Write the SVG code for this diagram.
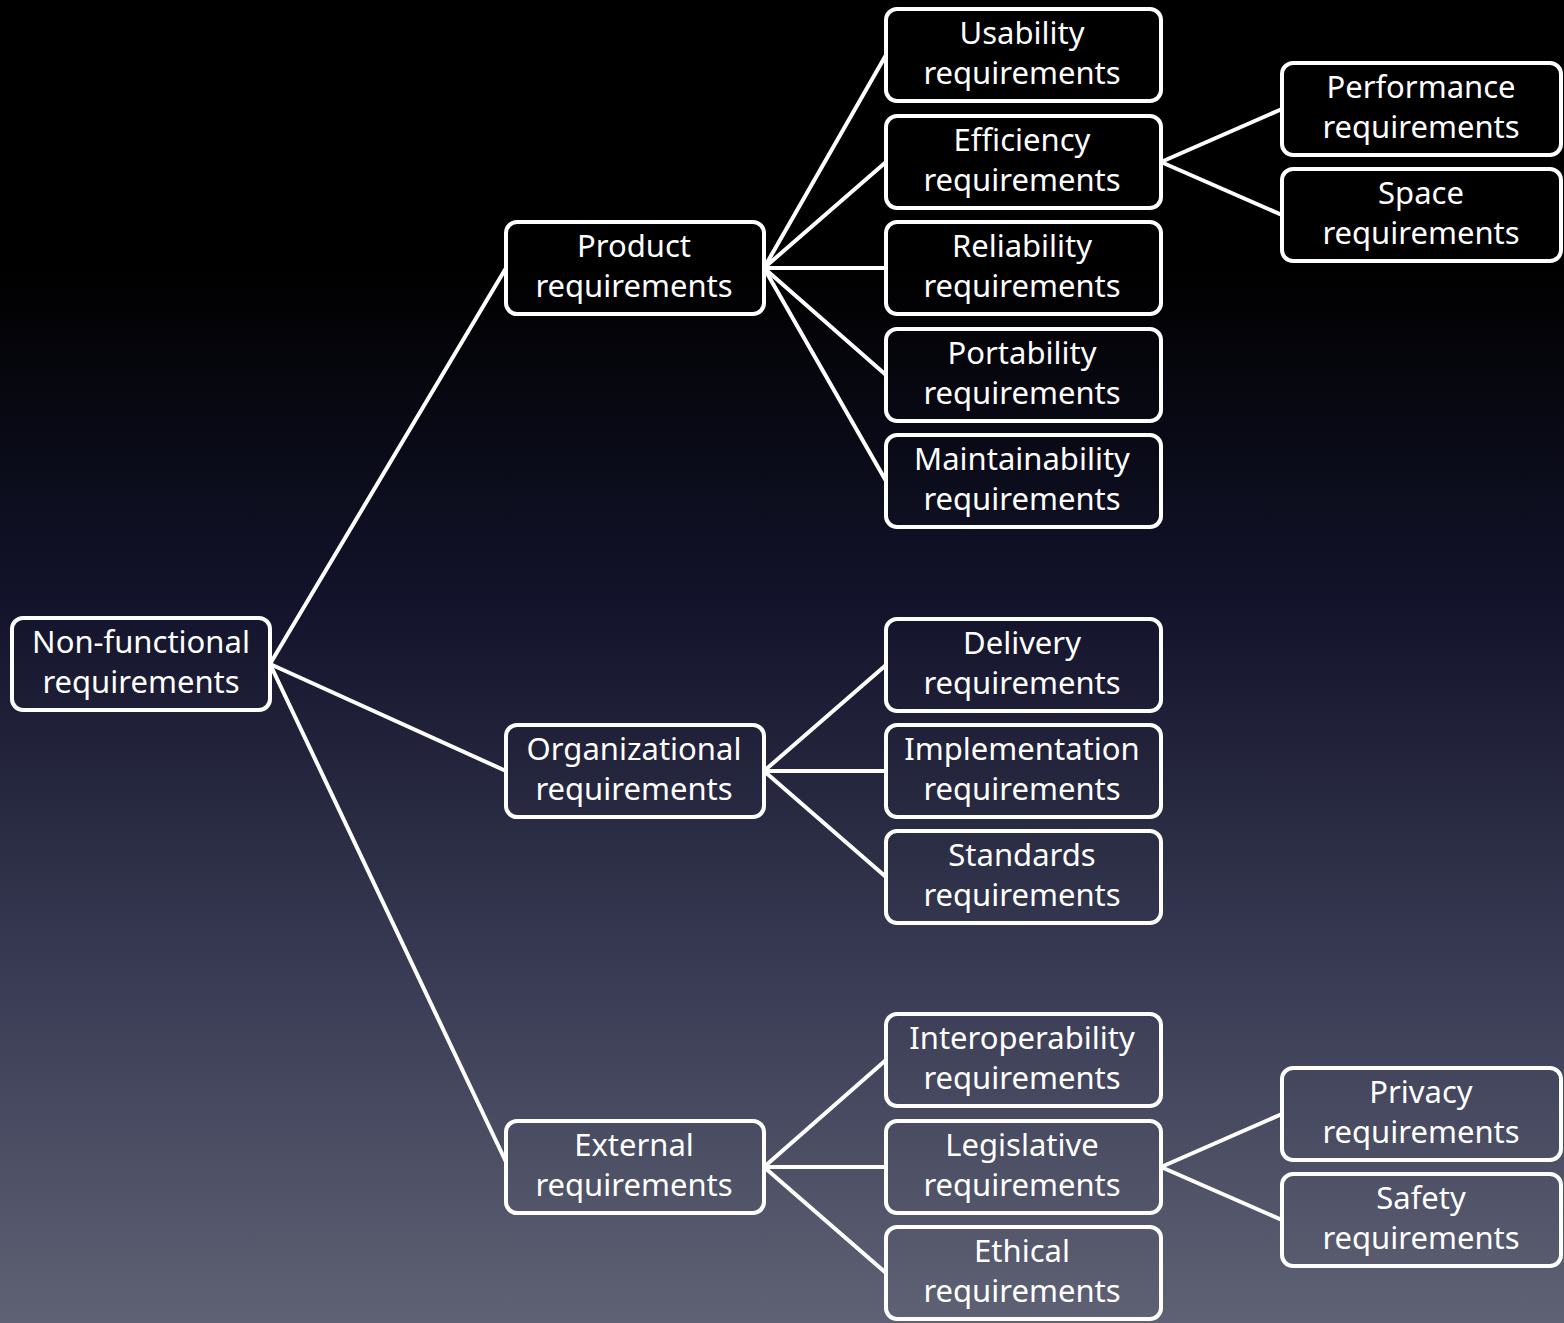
<svg xmlns="http://www.w3.org/2000/svg" width="1564" height="1323" viewBox="0 0 1564 1323">
<defs>
<linearGradient id="bg" x1="0" y1="0" x2="0" y2="1">
<stop offset="0" stop-color="#000000"/>
<stop offset="0.2" stop-color="#000000"/>
<stop offset="0.45" stop-color="#12132a"/>
<stop offset="0.75" stop-color="#3b3d56"/>
<stop offset="1" stop-color="#5f6174"/>
</linearGradient>
<style>
.box{fill:none;stroke:#ffffff;stroke-width:4}
.lbl{fill:#ffffff;font-family:"Noto Sans","Open Sans","Liberation Sans",sans-serif;font-size:31px;text-anchor:middle}
.con{stroke:#ffffff;stroke-width:4;fill:none;stroke-linecap:round}
</style>
</defs>
<rect x="0" y="0" width="1564" height="1323" fill="url(#bg)"/>
<g id="connectors">
<line class="con" x1="270" y1="664" x2="506" y2="268"/>
<line class="con" x1="270" y1="664" x2="506" y2="771"/>
<line class="con" x1="270" y1="664" x2="506" y2="1162"/>
<line class="con" x1="764" y1="268" x2="886" y2="55"/>
<line class="con" x1="764" y1="268" x2="886" y2="162"/>
<line class="con" x1="764" y1="268" x2="886" y2="268"/>
<line class="con" x1="764" y1="268" x2="886" y2="375"/>
<line class="con" x1="764" y1="268" x2="886" y2="481"/>
<line class="con" x1="764" y1="771" x2="886" y2="665"/>
<line class="con" x1="764" y1="771" x2="886" y2="771"/>
<line class="con" x1="764" y1="771" x2="886" y2="877"/>
<line class="con" x1="764" y1="1167" x2="886" y2="1060"/>
<line class="con" x1="764" y1="1167" x2="886" y2="1167"/>
<line class="con" x1="764" y1="1167" x2="886" y2="1273"/>
<line class="con" x1="1161" y1="162" x2="1282" y2="109"/>
<line class="con" x1="1161" y1="162" x2="1282" y2="215"/>
<line class="con" x1="1161" y1="1167" x2="1282" y2="1114"/>
<line class="con" x1="1161" y1="1167" x2="1282" y2="1220"/>
</g>
<g id="nonfunctional"><rect class="box" x="12" y="618" width="258" height="92" rx="11"/><text class="lbl" x="141" y="653">Non-functional</text><text class="lbl" x="141" y="693">requirements</text></g>
<g id="product"><rect class="box" x="506" y="222" width="258" height="92" rx="11"/><text class="lbl" x="634" y="257">Product</text><text class="lbl" x="634" y="297">requirements</text></g>
<g id="organizational"><rect class="box" x="506" y="725" width="258" height="92" rx="11"/><text class="lbl" x="634" y="760">Organizational</text><text class="lbl" x="634" y="800">requirements</text></g>
<g id="external"><rect class="box" x="506" y="1121" width="258" height="92" rx="11"/><text class="lbl" x="634" y="1156">External</text><text class="lbl" x="634" y="1196">requirements</text></g>
<g id="usability"><rect class="box" x="886" y="9" width="275" height="92" rx="11"/><text class="lbl" x="1022" y="44">Usability</text><text class="lbl" x="1022" y="84">requirements</text></g>
<g id="efficiency"><rect class="box" x="886" y="116" width="275" height="92" rx="11"/><text class="lbl" x="1022" y="151">Efficiency</text><text class="lbl" x="1022" y="191">requirements</text></g>
<g id="reliability"><rect class="box" x="886" y="222" width="275" height="92" rx="11"/><text class="lbl" x="1022" y="257">Reliability</text><text class="lbl" x="1022" y="297">requirements</text></g>
<g id="portability"><rect class="box" x="886" y="329" width="275" height="92" rx="11"/><text class="lbl" x="1022" y="364">Portability</text><text class="lbl" x="1022" y="404">requirements</text></g>
<g id="maintainability"><rect class="box" x="886" y="435" width="275" height="92" rx="11"/><text class="lbl" x="1022" y="470">Maintainability</text><text class="lbl" x="1022" y="510">requirements</text></g>
<g id="delivery"><rect class="box" x="886" y="619" width="275" height="92" rx="11"/><text class="lbl" x="1022" y="654">Delivery</text><text class="lbl" x="1022" y="694">requirements</text></g>
<g id="implementation"><rect class="box" x="886" y="725" width="275" height="92" rx="11"/><text class="lbl" x="1022" y="760">Implementation</text><text class="lbl" x="1022" y="800">requirements</text></g>
<g id="standards"><rect class="box" x="886" y="831" width="275" height="92" rx="11"/><text class="lbl" x="1022" y="866">Standards</text><text class="lbl" x="1022" y="906">requirements</text></g>
<g id="interoperability"><rect class="box" x="886" y="1014" width="275" height="92" rx="11"/><text class="lbl" x="1022" y="1049">Interoperability</text><text class="lbl" x="1022" y="1089">requirements</text></g>
<g id="legislative"><rect class="box" x="886" y="1121" width="275" height="92" rx="11"/><text class="lbl" x="1022" y="1156">Legislative</text><text class="lbl" x="1022" y="1196">requirements</text></g>
<g id="ethical"><rect class="box" x="886" y="1227" width="275" height="92" rx="11"/><text class="lbl" x="1022" y="1262">Ethical</text><text class="lbl" x="1022" y="1302">requirements</text></g>
<g id="performance"><rect class="box" x="1282" y="63" width="279" height="92" rx="11"/><text class="lbl" x="1421" y="98">Performance</text><text class="lbl" x="1421" y="138">requirements</text></g>
<g id="space"><rect class="box" x="1282" y="169" width="279" height="92" rx="11"/><text class="lbl" x="1421" y="204">Space</text><text class="lbl" x="1421" y="244">requirements</text></g>
<g id="privacy"><rect class="box" x="1282" y="1068" width="279" height="92" rx="11"/><text class="lbl" x="1421" y="1103">Privacy</text><text class="lbl" x="1421" y="1143">requirements</text></g>
<g id="safety"><rect class="box" x="1282" y="1174" width="279" height="92" rx="11"/><text class="lbl" x="1421" y="1209">Safety</text><text class="lbl" x="1421" y="1249">requirements</text></g>
</svg>
